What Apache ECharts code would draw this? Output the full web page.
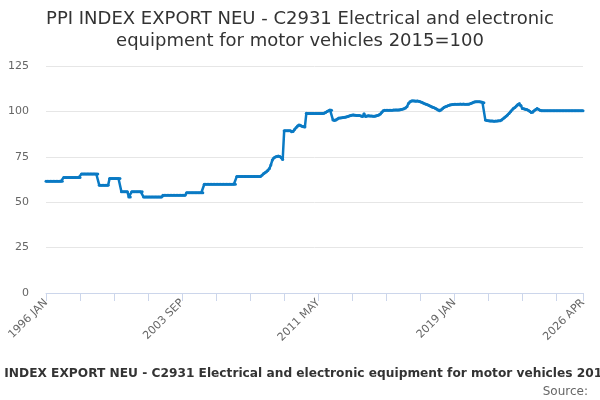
<!DOCTYPE html>
<html>
<head>
    <meta charset="utf-8">
    <script src="https://cdn.jsdelivr.net/npm/echarts@6/dist/echarts.min.js"></script>
    <style>
        html, body { margin: 0; padding: 0; background: #fff; }
    </style>
</head>

<body>
<div id="main" style="width: 600px;height:400px;"></div>
<script type="text/javascript">
    // months / years for the category axis
    var years = [1996, 1997, 1998, 1999, 2000, 2001, 2002, 2003, 2004, 2005,
                 2006, 2007, 2008, 2009, 2010, 2011, 2012, 2013, 2014, 2015,
                 2016, 2017, 2018, 2019, 2020, 2021, 2022, 2023, 2024, 2025, 2026];
    var monthNames = ['JAN','FEB','MAR','APR','MAY','JUN','JUL','AUG','SEP','OCT','NOV','DEC'];
    var lastMonthCount = 4; // 2026 ends in APR

    // index values, one row per year
    var ppiValues = [
        61.5, 61.5, 61.5, 61.5, 61.5, 61.5, 61.5, 61.5, 61.5, 61.5, 61.5, 61.5,      // 1996
        63.6, 63.6, 63.6, 63.6, 63.6, 63.6, 63.6, 63.6, 63.6, 63.6, 63.6, 63.6,      // 1997
        65.5, 65.5, 65.5, 65.5, 65.5, 65.5, 65.5, 65.5, 65.5, 65.5, 65.5, 65.5,      // 1998
        59.4, 59.4, 59.4, 59.4, 59.4, 59.4, 59.4, 63.1, 63.1, 63.1, 63.1, 63.1,      // 1999
        63.1, 63.1, 63.1, 55.8, 55.8, 55.8, 55.8, 55.8, 52.9, 52.9, 55.8, 55.8,      // 2000
        55.8, 55.8, 55.8, 55.8, 55.8, 55.8, 52.8, 52.8, 52.8, 52.8, 52.8, 52.8,      // 2001
        52.8, 52.8, 52.8, 52.8, 52.8, 52.8, 52.8, 53.8, 53.8, 53.8, 53.8, 53.8,      // 2002
        53.8, 53.8, 53.8, 53.8, 53.8, 53.8, 53.8, 53.8, 53.8, 53.8, 53.8, 55.2,      // 2003
        55.2, 55.2, 55.2, 55.2, 55.2, 55.2, 55.2, 55.2, 55.2, 55.2, 55.2, 59.9,      // 2004
        59.9, 59.9, 59.9, 59.9, 59.9, 59.9, 59.9, 59.9, 59.9, 59.9, 59.9, 59.9,      // 2005
        59.9, 59.9, 59.9, 59.9, 59.9, 59.9, 59.9, 59.9, 59.9, 64.2, 64.2, 64.2,      // 2006
        64.2, 64.2, 64.2, 64.2, 64.2, 64.2, 64.2, 64.2, 64.2, 64.2, 64.2, 64.2,      // 2007
        64.2, 64.2, 64.8, 65.6, 66.2, 66.8, 67.5, 68.5, 70.5, 73.2, 74.4, 74.9,      // 2008
        75.2, 75.4, 75.2, 74.6, 73.5, 89.3, 89.3, 89.3, 89.3, 89.3, 88.8, 89.0,      // 2009
        90.0, 91.0, 92.0, 92.5, 92.4, 91.8, 91.5, 91.4, 99.0, 98.8, 98.8, 98.8,      // 2010
        98.8, 98.8, 98.8, 98.8, 98.8, 98.8, 98.8, 98.8, 99.0, 99.4, 99.9, 100.4,     // 2011
        100.8, 100.6, 95.2, 95.0, 95.3, 95.8, 96.3, 96.4, 96.5, 96.7, 96.8, 96.9,    // 2012
        97.2, 97.5, 97.8, 98.0, 98.0, 97.9, 97.8, 97.8, 97.7, 97.5, 97.2, 98.7,      // 2013
        97.2, 97.5, 97.6, 97.5, 97.4, 97.3, 97.3, 97.5, 97.7, 98.0, 98.5, 99.5,      // 2014
        100.4, 100.6, 100.7, 100.7, 100.7, 100.7, 100.7, 100.8, 100.8, 100.8, 100.8, 100.8, // 2015
        101.0, 101.2, 101.5, 101.9, 102.6, 104.4, 105.3, 105.7, 105.8, 105.7, 105.6, 105.7, // 2016
        105.6, 105.3, 105.0, 104.6, 104.2, 103.9, 103.6, 103.2, 102.8, 102.4, 102.1, 101.8, // 2017
        101.3, 100.8, 100.4, 100.8, 101.5, 102.2, 102.6, 102.9, 103.2, 103.5, 103.7, 103.8, // 2018
        103.9, 104.0, 104.0, 104.0, 104.1, 104.0, 104.1, 104.0, 104.0, 103.9, 104.0, 104.3, // 2019
        104.6, 105.0, 105.3, 105.3, 105.3, 105.3, 105.2, 105.1, 104.8, 95.2, 95.0, 94.8,    // 2020
        94.7, 94.7, 94.7, 94.6, 94.7, 94.7, 94.8, 94.9, 95.3, 96.0, 96.7, 97.3,      // 2021
        98.0, 98.9, 99.8, 100.8, 101.8, 102.2, 103.0, 103.8, 104.4, 103.2, 101.6, 101.4,   // 2022
        101.2, 101.1, 100.6, 100.1, 99.4, 99.6, 100.4, 101.0, 101.6, 101.0, 100.6, 100.4,  // 2023
        100.4, 100.4, 100.4, 100.4, 100.4, 100.4, 100.4, 100.4, 100.4, 100.4, 100.4, 100.4, // 2024
        100.4, 100.4, 100.4, 100.4, 100.4, 100.4, 100.4, 100.4, 100.4, 100.4, 100.4, 100.4, // 2025
        100.4, 100.4, 100.4, 100.4                                                   // 2026
    ];

    var yTicks = [0, 25, 50, 75, 100, 125];
    var titleText = 'PPI INDEX EXPORT NEU - C2931 Electrical and electronic equipment for motor vehicles 2015=100';

    var categories = [];
    years.forEach(function (y, yi) {
        var n = (yi === years.length - 1) ? lastMonthCount : 12;
        for (var m = 0; m < n; m++) {
            categories.push(y + ' ' + monthNames[m]);
        }
    });
    var lastIdx = categories.length - 1;

    var myChart = echarts.init(document.getElementById('main'));

    var font = '"DejaVu Sans", Verdana, sans-serif';

    option = {
        animation: false,
        backgroundColor: '#ffffff',
        title: {
            text: 'PPI INDEX EXPORT NEU - C2931 Electrical and electronic\nequipment for motor vehicles 2015=100',
            left: 'center',
            top: 3,
            textStyle: {
                fontFamily: font,
                fontSize: 18,
                fontWeight: 'normal',
                color: '#333333',
                lineHeight: 22
            }
        },
        grid: {
            left: 46,
            right: 17,
            top: 66,
            bottom: 107
        },
        xAxis: {
            type: 'category',
            boundaryGap: false,
            data: categories,
            axisLine: { lineStyle: { color: '#ccd6eb', width: 1 } },
            axisTick: {
                show: true,
                length: 8,
                lineStyle: { color: '#ccd6eb' },
                interval: function (index) {
                    return index % 23 === 0 || index === lastIdx;
                }
            },
            axisLabel: {
                rotate: 45,
                margin: 8,
                fontFamily: font,
                fontSize: 11,
                color: '#666666',
                showMaxLabel: true,
                interval: function (index) {
                    return index % 92 === 0 || index === lastIdx;
                }
            },
            splitLine: { show: false }
        },
        yAxis: {
            type: 'value',
            min: yTicks[0],
            max: yTicks[yTicks.length - 1],
            interval: 25,
            axisLine: { show: false },
            axisTick: { show: false },
            axisLabel: {
                margin: 17,
                fontFamily: font,
                fontSize: 11,
                color: '#666666'
            },
            splitLine: { lineStyle: { color: '#e6e6e6', width: 1 } }
        },
        graphic: [
            {
                type: 'text',
                x: 312,
                y: 374,
                style: {
                    text: titleText,
                    font: 'bold 12.2px ' + font,
                    fill: '#333333',
                    align: 'center',
                    verticalAlign: 'middle'
                }
            },
            {
                type: 'text',
                x: 588,
                y: 392,
                style: {
                    text: 'Source:',
                    font: '12px ' + font,
                    fill: '#666666',
                    align: 'right',
                    verticalAlign: 'middle'
                }
            }
        ],
        series: [
            {
                name: titleText,
                type: 'line',
                data: ppiValues,
                symbol: 'circle',
                symbolSize: 3,
                showAllSymbol: true,
                lineStyle: { color: '#0a7ac4', width: 2.5 },
                itemStyle: { color: '#0a7ac4' }
            }
        ]
    };

    myChart.setOption(option);
</script>
</body>
</html>
